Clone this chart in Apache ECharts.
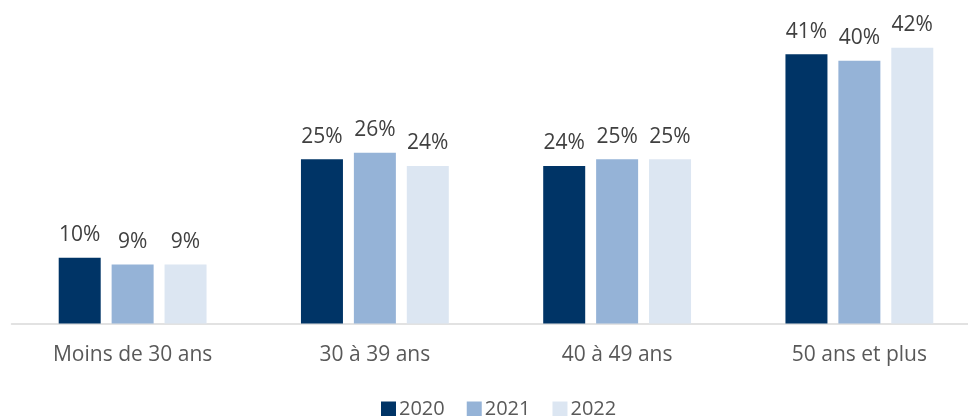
<!DOCTYPE html>
<html><head><meta charset="utf-8">
<script src="https://cdn.jsdelivr.net/npm/echarts@6/dist/echarts.min.js"></script>
<style>html,body{margin:0;padding:0;background:#fff}#c{width:968px;height:416px}</style>
</head><body><div id="c"></div>
<script>
const categories = ['Moins de 30 ans', '30 à 39 ans', '40 à 49 ans', '50 ans et plus'];
const seriesNames = ['2020', '2021', '2022'];
const values2020 = [10, 25, 24, 41];
const values2021 = [9, 26, 25, 40];
const values2022 = [9, 24, 25, 42];
const colors = ['#003466', '#95B3D7', '#DCE6F2'];
const FONT = 'Open Sans';
const allValues = [values2020, values2021, values2022];
const chart = echarts.init(document.getElementById('c'));
chart.setOption({
  animation: false,
  textStyle: {fontFamily: FONT},
  grid: {left: 11.5, width: 969, top: 28, bottom: 92.5, outerBoundsMode: 'none', containLabel: false},
  legend: {
    left: 376, top: 394, itemWidth: 15, itemHeight: 15, itemGap: 22,
    icon: 'rect',
    textStyle: {fontSize: 20, color: '#595959', fontFamily: FONT, padding: [0,0,0,-2]},
    data: seriesNames
  },
  xAxis: {
    type: 'category', data: categories,
    axisLine: {lineStyle: {color: '#D9D9D9', width: 1.5}},
    axisTick: {show: false},
    axisLabel: {fontSize: 21, color: '#595959', margin: 21, fontFamily: FONT}
  },
  yAxis: {type: 'value', min: 0, max: 45, show: false, splitLine: {show: false}},
  series: seriesNames.map((n, i) => ({
    name: n, type: 'bar', data: allValues[i],
    barWidth: 42, barGap: '26%',
    itemStyle: {color: colors[i]},
    label: {show: true, position: 'top', distance: 12, formatter: '{c}%', fontSize: 21, color: '#404040', fontFamily: FONT}
  }))
});
</script></body></html>
